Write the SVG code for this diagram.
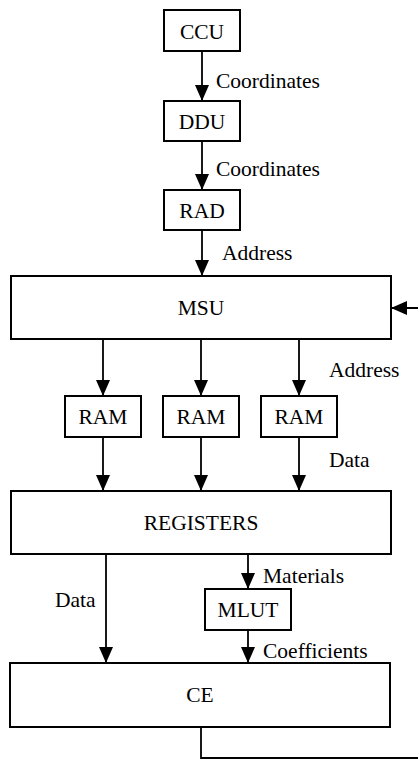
<svg xmlns="http://www.w3.org/2000/svg" width="418" height="760" viewBox="0 0 418 760">
  <defs>
    <marker id="arrow" markerUnits="userSpaceOnUse" markerWidth="16" markerHeight="14" refX="16" refY="7" orient="auto">
      <path d="M0,0 L16,7 L0,14 Z" fill="#000"/>
    </marker>
    <style>
      .box { fill: #fff; stroke: #000; stroke-width: 2; }
      text { font-family: 'Liberation Serif', 'DejaVu Serif', serif; font-size: 21.5px; fill: #000; }
      .name { text-anchor: middle; }
      .wire { fill: none; stroke: #000; stroke-width: 1.8; marker-end: url(#arrow); }
    </style>
  </defs>
  <rect width="418" height="760" fill="#fff"/>

  <!-- connectors -->
  <g id="connectors" font-family="Liberation Serif, DejaVu Serif, serif">
    <line class="wire" x1="202" y1="51" x2="202" y2="101"/>
    <line class="wire" x1="202" y1="141" x2="202" y2="190"/>
    <line class="wire" x1="202" y1="230" x2="202" y2="276"/>
    <line class="wire" x1="103" y1="339" x2="103" y2="396"/>
    <line class="wire" x1="201" y1="339" x2="201" y2="396"/>
    <line class="wire" x1="299" y1="339" x2="299" y2="396"/>
    <line class="wire" x1="103" y1="437" x2="103" y2="491"/>
    <line class="wire" x1="201" y1="437" x2="201" y2="491"/>
    <line class="wire" x1="299" y1="437" x2="299" y2="491"/>
    <line class="wire" x1="106" y1="554" x2="106" y2="663"/>
    <line class="wire" x1="248" y1="554" x2="248" y2="589"/>
    <line class="wire" x1="248" y1="630" x2="248" y2="663"/>
    <!-- feedback from CE back into MSU, routed around the right edge -->
    <path class="wire" d="M201,727 V758 H425 V308 H391"/>
    <text x="216" y="88">Coordinates</text>
    <text x="216" y="176">Coordinates</text>
    <text x="222" y="260">Address</text>
    <text x="329" y="377">Address</text>
    <text x="329" y="467">Data</text>
    <text x="55" y="607">Data</text>
    <text x="263" y="583">Materials</text>
    <text x="263" y="658">Coefficients</text>
  </g>

  <g id="nodes" font-family="Liberation Serif, DejaVu Serif, serif">
    <g id="ccu">
      <rect class="box" x="164" y="10" width="76" height="41"/>
      <text class="name" x="202" y="38.5">CCU</text>
    </g>
    <g id="ddu">
      <rect class="box" x="164" y="101" width="76" height="40"/>
      <text class="name" x="202" y="128.5">DDU</text>
    </g>
    <g id="rad">
      <rect class="box" x="164" y="190" width="76" height="40"/>
      <text class="name" x="202" y="217.5">RAD</text>
    </g>
    <g id="msu">
      <rect class="box" x="11" y="276" width="380" height="63"/>
      <text class="name" x="201" y="315">MSU</text>
    </g>
    <g id="ram1">
      <rect class="box" x="65" y="396" width="76" height="41"/>
      <text class="name" x="103" y="424">RAM</text>
    </g>
    <g id="ram2">
      <rect class="box" x="163" y="396" width="76" height="41"/>
      <text class="name" x="201" y="424">RAM</text>
    </g>
    <g id="ram3">
      <rect class="box" x="261" y="396" width="76" height="41"/>
      <text class="name" x="299" y="424">RAM</text>
    </g>
    <g id="registers">
      <rect class="box" x="11" y="491" width="380" height="63"/>
      <text class="name" x="201" y="530">REGISTERS</text>
    </g>
    <g id="mlut">
      <rect class="box" x="205" y="589" width="86" height="41"/>
      <text class="name" x="248" y="617">MLUT</text>
    </g>
    <g id="ce">
      <rect class="box" x="10" y="663" width="380" height="64"/>
      <text class="name" x="200" y="702">CE</text>
    </g>
  </g>
</svg>
